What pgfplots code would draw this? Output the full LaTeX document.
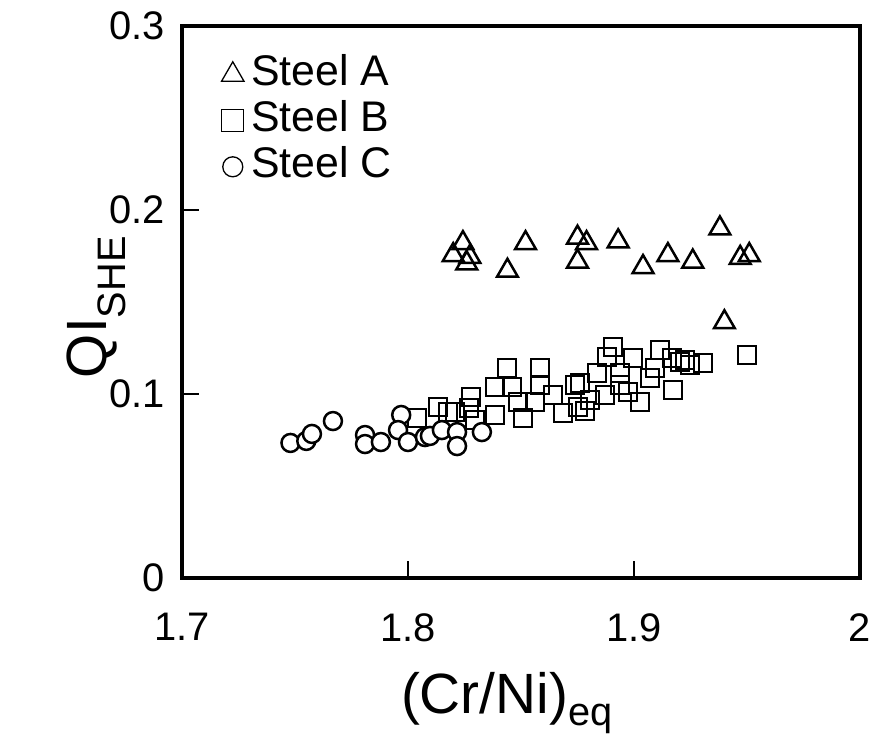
\documentclass[border=0pt]{standalone}
\usepackage{pgfplots}
\pgfplotsset{compat=1.18}
\usepackage{fontspec}
\setmainfont{Liberation Sans}
\begin{document}
\begin{tikzpicture}
\path[use as bounding box] (-182bp,-160bp) rectangle (694bp,578bp);
\begin{axis}[
  scale only axis,
  width=678bp, height=552bp,
  at={(0,0)}, anchor=south west,
  xmin=1.7, xmax=2, ymin=0, ymax=0.3,
  xtick={1.7,1.8,1.9,2}, ytick={0,0.1,0.2,0.3},
  xticklabels={1.7,1.8,1.9,2}, yticklabels={0,0.1,0.2,0.3},
  xtick pos=bottom, ytick pos=left,
  tick align=inside,
  major tick length=17bp,
  every tick/.style={black, line width=2.5bp},
  axis line style={line width=4bp},
  tick label style={font=\fontsize{40}{44}\selectfont},
  xticklabel style={yshift=-32bp},
  yticklabel style={xshift=-14bp},
  xlabel={(Cr/Ni)\textsubscript{eq}},
  ylabel={QI\textsubscript{SHE}},
  every axis x label/.style={at={([xshift=-14bp,yshift=-125bp]rel axis cs:0.5,0)}, anchor=center, font=\fontsize{57}{60}\selectfont},
  every axis y label/.style={at={([xshift=-86bp,yshift=-5bp]rel axis cs:0,0.5)}, anchor=center, rotate=90, font=\fontsize{57}{60}\selectfont},
  legend style={at={(0.058,0.95)}, anchor=north west, draw=none, fill=none, inner sep=0pt,
    font=\fontsize{43}{46}\selectfont, row sep=4bp,
    nodes={inner sep=2bp, text height=30bp, text depth=8bp}},
  legend cell align=left,
]
\addplot[only marks, mark=triangle, mark size=12bp, line width=2.5bp,
  legend image code/.code={\pgfsetlinewidth{1.3bp}\pgfsetstrokecolor{black}\pgfplotmarksize=13bp\pgfuseplotmark{triangle}}] coordinates {
(1.820,0.1755) (1.8243,0.182) (1.8274,0.1745) (1.826,0.171) (1.844,0.167)
(1.852,0.182) (1.875,0.185) (1.879,0.182) (1.875,0.172) (1.893,0.183)
(1.904,0.169) (1.915,0.1755) (1.926,0.172) (1.938,0.190) (1.947,0.174)
(1.951,0.1755) (1.940,0.139)
};
\addlegendentry{\hspace{5bp}Steel A}
\addplot[only marks, mark=square, mark size=9bp, line width=2.5bp, mark options={fill=white},
  legend image code/.code={\pgfsetlinewidth{1.3bp}\pgfsetstrokecolor{black}\pgfplotmarksize=11bp\pgfuseplotmark{square}}] coordinates {
(1.8040,0.0870) (1.8133,0.0929) (1.8177,0.0902) (1.8208,0.0902) (1.8279,0.0984)
(1.8270,0.0924) (1.8296,0.0859) (1.8385,0.1038) (1.8385,0.0886) (1.8438,0.1141)
(1.8460,0.1038) (1.8487,0.0957) (1.8509,0.0870) (1.8562,0.0957) (1.8584,0.1141)
(1.8584,0.1049) (1.8642,0.0995) (1.8686,0.0897) (1.8739,0.1049) (1.8752,0.0929)
(1.8783,0.0908) (1.8761,0.1060) (1.8805,0.0967) (1.8836,0.1114) (1.8872,0.0995)
(1.8881,0.1201) (1.8907,0.1255) (1.8938,0.1114) (1.8938,0.1049) (1.8973,0.1011)
(1.8996,0.1196) (1.9027,0.0957) (1.9071,0.1087) (1.9093,0.1141) (1.9115,0.1239)
(1.9168,0.1196) (1.9173,0.1022) (1.9204,0.1174) (1.9226,0.1185) (1.9248,0.1158)
(1.9305,0.1168) (1.9500,0.1212)
};
\addlegendentry{\hspace{5bp}Steel B}
\addplot[only marks, mark=*, mark size=9bp, line width=2.5bp, mark options={fill=white},
  legend image code/.code={\pgfsetlinewidth{1.3bp}\pgfsetstrokecolor{black}\pgfplotmarksize=10bp\pgfuseplotmark{o}}] coordinates {
(1.748,0.0734) (1.755,0.0745) (1.7575,0.0783) (1.7668,0.0853) (1.781,0.0777)
(1.781,0.0728) (1.788,0.0739) (1.797,0.0886) (1.7956,0.0804) (1.800,0.0739)
(1.8075,0.0766) (1.8097,0.0772) (1.815,0.0804) (1.8217,0.0793) (1.8217,0.0717)
(1.8327,0.0793)
};
\addlegendentry{\hspace{5bp}Steel C}
\end{axis}
\end{tikzpicture}
\end{document}
